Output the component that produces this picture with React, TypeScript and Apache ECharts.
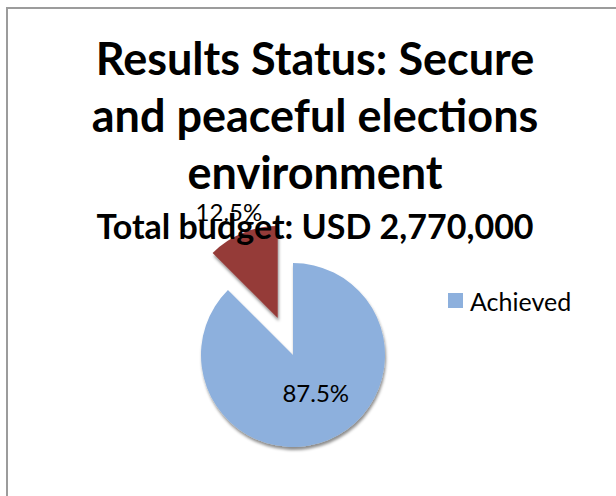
import React, { useEffect, useRef } from "react";
import * as echarts from "echarts";

const titleLines = ["Results Status: Secure", "and peaceful elections", "environment"];
const subtitle = "Total budget: USD 2,770,000";
const categories = ["Achieved", "Not achieved"];
const values = [87.5, 12.5];
const legendItems = ["Achieved"];
const colors = ["#8DB0DD", "#953B39"];

export default function App() {
  const ref = useRef<HTMLDivElement>(null);
  useEffect(() => {
    if (!ref.current) return;
    const chart = echarts.init(ref.current, undefined, { renderer: "svg" });
    const font = "Lato, 'Open Sans', sans-serif";
    chart.setOption({
      animation: false,
      backgroundColor: "#ffffff",
      title: {
        text: titleLines.join("\n"),
        subtext: subtitle,
        left: 315,
        textAlign: "center",
        top: 29,
        padding: 0,
        itemGap: 8,
        textStyle: {
          fontFamily: font,
          fontWeight: "bold",
          fontSize: 45,
          lineHeight: 57,
          color: "#000",
        },
        subtextStyle: {
          fontFamily: font,
          fontWeight: "bold",
          fontSize: 34,
          lineHeight: 34,
          color: "#000",
        },
        z: 10,
      },
      legend: {
        data: legendItems,
        left: 448,
        top: 288,
        padding: 0,
        orient: "vertical",
        icon: "rect",
        itemWidth: 15,
        itemHeight: 15,
        itemGap: 6,
        selectedMode: false,
        textStyle: { fontFamily: font, fontSize: 25, color: "#000", padding: [0, 0, 0, 2] },
      },
      graphic: [
        {
          type: "rect",
          shape: { x: 7, y: 8, width: 640, height: 520 },
          style: { fill: "none", stroke: "#9c9c9c", lineWidth: 2 },
          silent: true,
          z: 0,
        },
      ],
      series: [
        {
          type: "pie",
          center: [293, 355],
          radius: 92,
          startAngle: 90,
          clockwise: true,
          selectedMode: "multiple",
          selectedOffset: 40,
          z: 2,
          itemStyle: {
            shadowBlur: 3,
            shadowOffsetX: 1,
            shadowOffsetY: 3,
            shadowColor: "rgba(0,0,0,0.45)",
          },
          emphasis: { disabled: true },
          label: {
            show: true,
            position: "inside",
            formatter: (p: any) => p.value.toFixed(1) + "%",
            fontFamily: font,
            fontSize: 24,
            color: "#000",
          },
          labelLine: { show: false },
          labelLayout: (p: any) =>
            p.dataIndex === 1 ? { dx: -30, dy: -61 } : { dx: 4, dy: -8 },
          data: categories.map((c, i) => ({
            name: c,
            value: values[i],
            selected: i === 1,
            itemStyle: { color: colors[i] },
          })),
        },
      ],
    });
    return () => chart.dispose();
  }, []);
  return (
    <div
      ref={ref}
      style={{ position: "fixed", left: 0, top: 0, width: 616, height: 496 }}
    />
  );
}
